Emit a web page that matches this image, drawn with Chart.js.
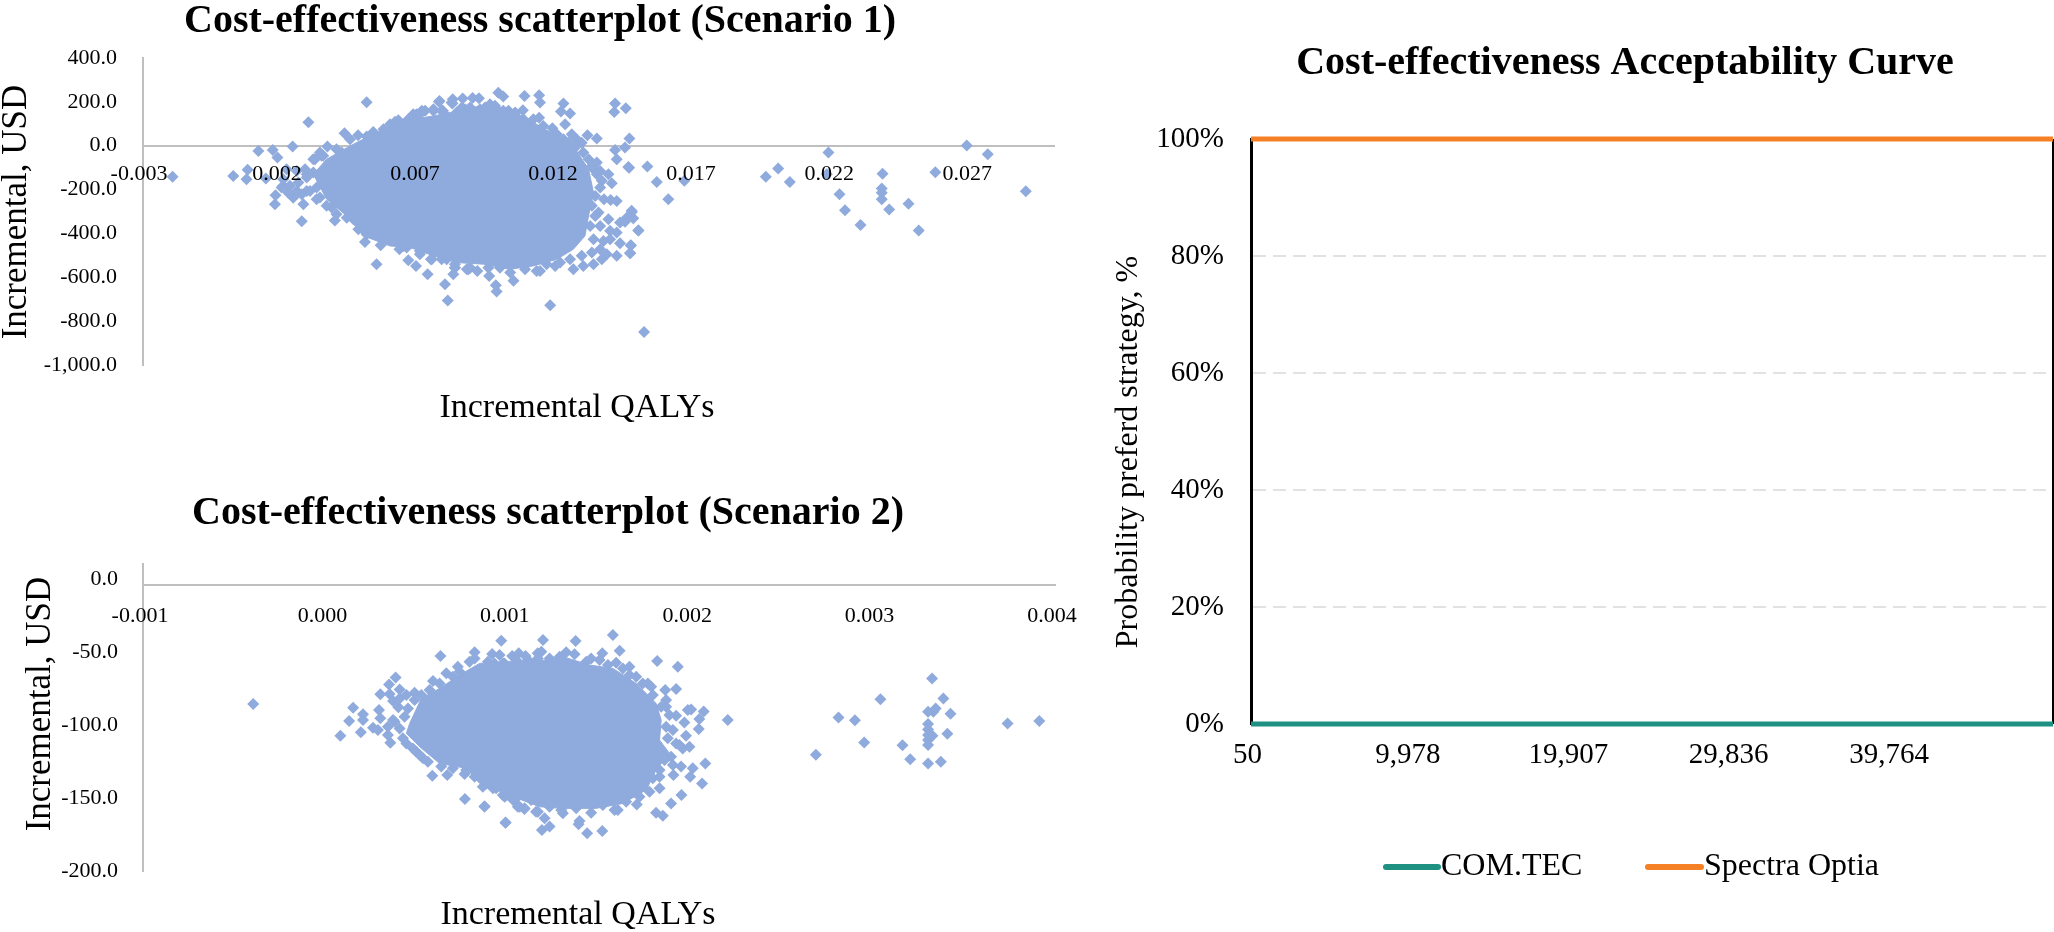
<!DOCTYPE html>
<html>
<head>
<meta charset="utf-8">
<title>Cost-effectiveness</title>
<script src="https://cdn.jsdelivr.net/npm/chart.js@4/dist/chart.umd.js"></script>
<style>
  html, body { margin: 0; padding: 0; background: #fff; overflow: hidden; }
  #page { position: relative; width: 2054px; height: 932px; }
  canvas { position: absolute; display: block; }
  #chart1 { left: 0; top: 0; }
  #chart2 { left: 0; top: 480px; }
  #chart3 { left: 1090px; top: 0; }
</style>
</head>
<body>
<div id="page">
  <canvas id="chart1" width="1080" height="470"></canvas>
  <canvas id="chart2" width="1080" height="452"></canvas>
  <canvas id="chart3" width="964" height="932"></canvas>
</div>
<script>
// Scenario 1: [incremental QALYs, incremental USD]
const s1XTicks = [-0.003, 0.002, 0.007, 0.012, 0.017, 0.022, 0.027];
const s1YTicks = [400, 200, 0, -200, -400, -600, -800, -1000];
// outline of the solid part of the cloud
const s1Core = [
  [0.00317,-130],[0.00365,-62],[0.0045,-1],[0.00546,60],[0.00643,113],[0.00752,136],[0.00848,159],
  [0.00945,189],[0.0103,166],[0.01114,106],[0.01199,45],[0.01271,-24],[0.01314,-107],[0.01332,-214],
  [0.01314,-320],[0.01301,-411],[0.01259,-472],[0.01199,-518],[0.01114,-548],[0.0103,-563],[0.00933,-540],
  [0.00836,-533],[0.00752,-502],[0.00667,-464],[0.00595,-457],[0.00498,-411],[0.00438,-320],[0.00365,-244],
  [0.00317,-130]
];
const s1Points = [
  [-0.00193,-141],[0.00027,-138],[0.00079,-110],[0.00075,-153],[0.00118,-24],[0.0017,-19],[0.00187,-54],
  [0.00242,-4],[0.00299,107],[0.00145,-150],[0.0018,-226],[0.00178,-267],[0.00275,-344],[0.0051,198],
  [0.0043,57],[0.00368,-4],[0.00479,48],[0.00534,63],[0.00613,109],[0.00661,121],[0.00546,-540],
  [0.00804,-706],[0.00794,-632],[0.00731,-586],[0.00689,-548],[0.00661,-522],[0.00743,-518],[0.00561,-454],
  [0.00504,-439],[0.00629,-472],[0.00395,-341],[0.00281,-267],[0.00244,-236],[0.00347,-46],[0.00401,-16],
  [0.00774,204],[0.00822,212],[0.00858,215],[0.00786,159],[0.00722,159],[0.00691,144],[0.00208,-183],
  [0.00257,-206],[0.00293,-206],[0.0022,-107],[0.00293,-130],[0.00341,-236],[0.00317,-62],[0.00383,-282],
  [0.00462,-335],[0.00772,201],[0.00821,192],[0.00894,218],[0.00917,217],[0.00987,242],[0.01005,224],
  [0.01082,227],[0.01135,230],[0.01138,197],[0.01223,192],[0.01214,156],[0.01247,147],[0.01229,98],
  [0.01076,162],[0.01135,128],[0.01183,80],[0.01024,159],[0.00752,159],[0.00784,159],[0.00867,166],
  [0.00921,166],[0.00975,182],[0.01054,128],[0.01102,83],[0.01253,52],[0.01241,14],[0.0131,48],[0.01344,33],
  [0.01289,14],[0.0141,192],[0.01449,171],[0.01407,154],[0.01462,33],[0.01446,-8],[0.0141,-19],[0.01416,-62],
  [0.01458,-97],[0.01527,-95],[0.01561,-165],[0.01603,-244],[0.01661,-160],[0.01344,-77],[0.01332,-107],
  [0.01356,-115],[0.01386,-130],[0.01398,-171],[0.01362,-160],[0.0137,-244],[0.01394,-247],[0.01416,-252],
  [0.0135,-305],[0.01386,-335],[0.01356,-366],[0.01428,-350],[0.01471,-302],[0.01452,-328],[0.01495,-387],
  [0.01416,-396],[0.01392,-426],[0.01428,-445],[0.01467,-454],[0.01465,-490],[0.01416,-502],[0.0138,-495],
  [0.01362,-518],[0.01332,-540],[0.01295,-548],[0.01259,-563],[0.01193,-548],[0.01138,-571],[0.01042,-616],
  [0.00978,-636],[0.00981,-665],[0.00954,-594],[0.00911,-571],[0.00824,-586],[0.0083,-556],[0.00885,-556],
  [0.01175,-727],[0.01515,-849],[0.01461,-100],[0.01956,-142],[0.02001,-104],[0.02043,-165],[0.02183,-31],
  [0.02177,-130],[0.02223,-221],[0.02243,-294],[0.02299,-361],[0.02379,-128],[0.02376,-195],[0.02376,-214],
  [0.02376,-244],[0.02403,-291],[0.02473,-265],[0.0251,-387],[0.0257,-121],[0.02684,1],[0.0276,-39],
  [0.02898,-208],[0.0147,-297],[0.01476,-331],[0.01446,-347],[0.01494,-387],[0.01467,-455],[0.01464,-489]
];
// diamonds that touch the solid part along its edge
const s1Edge = [
  [0.00353,-46],[0.00323,-62],[0.00341,-31],[0.0042,-31],[0.0045,30],[0.0051,42],[0.00571,75],[0.00595,98],
  [0.00625,116],[0.00679,144],[0.0071,159],[0.00752,166],[0.00782,159],[0.00818,197],[0.00855,174],[0.00867,144],
  [0.00329,-244],[0.00365,-274],[0.00401,-312],[0.00438,-328],[0.0048,-381],[0.0051,-404],[0.00546,-404],
  [0.00577,-388],[0.00625,-434],[0.00655,-464],[0.00703,-480],[0.00752,-487],[0.008,-518],[0.0083,-556],
  [0.00873,-563],[0.00202,-191],[0.00232,-183],[0.00263,-168],[0.00293,-145],[0.00317,-122],[0.00335,-130],
  [0.00329,-191],[0.00305,-206],[0.00275,-221],[0.00244,-236],[0.00226,-214],[0.00208,-153],[0.00257,-115],
  [0.00287,-107],[0.00703,144],[0.00788,151],[0.00836,151],[0.00885,174],[0.00939,174],[0.00957,189],
  [0.01005,159],[0.01048,151],[0.01078,121],[0.01114,121],[0.0115,90],[0.01199,52],[0.01223,30],[0.01271,30],
  [0.01265,-8],[0.01295,-31],[0.01314,-62],[0.01326,-92],[0.01344,-130],[0.01356,-191],[0.01338,-229],
  [0.01326,-274],[0.01338,-320],[0.0132,-366],[0.01332,-426],[0.01368,-434],[0.01356,-472],[0.01392,-388],
  [0.01326,-487],[0.01289,-502],[0.01247,-518],[0.01211,-533],[0.01162,-540],[0.01126,-571],[0.01084,-563],
  [0.0103,-578],[0.00993,-556],[0.00951,-556],[0.00879,-563],[0.0083,-540],[0.00782,-518],[0.00746,-518],
  [0.00703,-495],[0.00643,-457]
];

// Scenario 2
const s2XTicks = [-0.001, 0, 0.001, 0.002, 0.003, 0.004];
const s2YTicks = [0, -50, -100, -150, -200];
const s2Core = [
  [0.000462,-98.9],[0.000526,-81.8],[0.000626,-74.9],[0.000736,-65.8],[0.000845,-57.8],[0.000991,-56.6],
  [0.001029,-56.6],[0.001211,-55.5],[0.001302,-53.2],[0.001448,-58.9],[0.001576,-61.2],[0.001704,-71.5],
  [0.001813,-85.2],[0.001841,-96.6],[0.001832,-110.3],[0.001886,-119.4],[0.001813,-130.8],[0.001759,-144.5],
  [0.001631,-153.7],[0.001485,-157.1],[0.001302,-157.1],[0.001175,-156],[0.001029,-149.1],[0.000846,-140],
  [0.000772,-129.7],[0.000626,-126.3],[0.000517,-114.9],[0.000444,-105.7],[0.000462,-98.9]
];
const s2Points = [
  [-0.000396,-85.6],[0.000152,-88.1],[0.000206,-92.7],[0.000206,-96.6],[0.00013,-97.3],[0.000082,-107.3],
  [0.000194,-105],[0.000261,-101.8],[0.000294,-89.7],[0.000301,-95.4],[0.000301,-79],[0.000349,-72.2],
  [0.000385,-67.4],[0.000407,-75.6],[0.000352,-78.8],[0.000371,-83.6],[0.0004,-87.9],[0.00038,-97.7],
  [0.000343,-106.9],[0.000356,-112.1],[0.000425,-109.1],[0.000288,-103.4],[0.000498,-118.3],[0.000535,-122.8],
  [0.000586,-134.7],[0.000668,-134.3],[0.000763,-133.6],[0.000765,-150.7],[0.000872,-155.9],[0.000987,-166.9],
  [0.000863,-142.3],[0.000973,-148],[0.001055,-156],[0.001091,-157.5],[0.000964,-42.3],[0.000631,-52.8],
  [0.000663,-64.6],[0.00059,-69.9],[0.000626,-71.5],[0.000489,-77.9],[0.000726,-60.1],[0.000818,-50.2],
  [0.000914,-51.4],[0.000955,-52.1],[0.001024,-52.8],[0.00106,-50.9],[0.001097,-52.8],[0.001164,-50.9],
  [0.001193,-41.8],[0.001372,-42.5],[0.001576,-38.4],[0.001613,-49.1],[0.001819,-56.2],[0.001932,-60.1],
  [0.001184,-49.8],[0.00132,-50.2],[0.001366,-51.6],[0.001457,-54.4],[0.001518,-50.9],[0.001594,-57.3],
  [0.001667,-60.1],[0.001704,-66.9],[0.001768,-71.5],[0.001786,-73.8],[0.001863,-76],[0.001923,-75.4],
  [0.001868,-82.9],[0.001868,-87.5],[0.001923,-93.6],[0.001987,-89.7],[0.002005,-89.3],[0.002074,-90.7],
  [0.00205,-95.9],[0.001968,-98.2],[0.002047,-102.8],[0.002206,-96.6],[0.001977,-107.3],[0.001996,-114.9],
  [0.001941,-113.7],[0.001905,-127.4],[0.00195,-128.5],[0.001908,-134.3],[0.002014,-129.7],[0.002,-135.4],
  [0.002083,-126.3],[0.002065,-140],[0.001952,-148],[0.001895,-153.7],[0.001813,-160.1],[0.00185,-162.1],
  [0.001707,-154.4],[0.001603,-158.2],[0.001457,-160.1],[0.001393,-165.8],[0.001388,-168],[0.001435,-174.2],
  [0.001518,-172.6],[0.001302,-160.5],[0.001202,-163.9],[0.001229,-169.6],[0.001187,-171.9],[0.001065,-156],
  [0.001092,-157.1],[0.000988,-166.7],[0.000873,-155.9],[0.000983,-149.1],[0.001832,-143.4],[0.001832,-135.4],
  [0.002689,-120.3],[0.002813,-94.8],[0.002903,-96.8],[0.002954,-111.9],[0.003043,-82.4],[0.003164,-113.9],
  [0.003206,-123.5],[0.003304,-126.3],[0.003374,-125.1],[0.003326,-68.1],[0.003388,-81.8],[0.003346,-88.6],
  [0.003333,-90.9],[0.003304,-90.9],[0.003427,-92.3],[0.00341,-106],[0.003304,-99.3],[0.003304,-103],
  [0.003304,-106.9],[0.003328,-107.3],[0.003304,-110.3],[0.003304,-113.7],[0.00374,-98.9],[0.003914,-97.3]
];
const s2Edge = [
  [0.000371,-96.6],[0.000343,-101.2],[0.000407,-102.3],[0.000434,-94.3],[0.000453,-88.6],[0.000407,-81.8],
  [0.000444,-79.5],[0.000489,-82.9],[0.000526,-79.5],[0.000571,-76],[0.000699,-66.9],[0.000736,-63.5],
  [0.00079,-56.6],[0.000818,-54.4],[0.000891,-56.6],[0.000927,-57.8],[0.000982,-57.8],[0.001046,-55.5],
  [0.001101,-56.6],[0.000444,-112.6],[0.00048,-116],[0.000517,-120.6],[0.000562,-125.1],[0.000635,-128.5],
  [0.000699,-129.7],[0.000772,-130.8],[0.000818,-135.4],[0.000882,-140],[0.000936,-143.4],[0.000991,-148],
  [0.001037,-151.4],[0.001128,-151.4],[0.001155,-159.4],[0.000974,-57.8],[0.00112,-56.6],[0.001165,-54.4],
  [0.001229,-54.4],[0.001284,-53.2],[0.00143,-56.6],[0.001503,-55.5],[0.001549,-58.9],[0.001631,-61.2],
  [0.001667,-65.8],[0.00174,-71.5],[0.001795,-79.5],[0.001841,-87.5],[0.001886,-93.2],[0.001868,-101.2],
  [0.001905,-103.4],[0.001877,-109.1],[0.001923,-112.6],[0.001959,-116],[0.001895,-121.7],[0.001859,-124],
  [0.001832,-130.8],[0.001795,-136.5],[0.001777,-145.7],[0.001722,-149.1],[0.001649,-152.5],[0.001585,-158.2],
  [0.001521,-154.8],[0.001375,-157.1],[0.001293,-158.2],[0.001229,-156],[0.001165,-159.4],[0.00112,-149.1],
  [0.001029,-151.4],[0.000983,-148],[0.000919,-143.4]
];

// Acceptability curve
const wtpLabels = ['50', '9,978', '19,907', '29,836', '39,764', ''];
const comTec = [0, 0, 0, 0, 0, 0];
const spectraOptia = [100, 100, 100, 100, 100, 100];

const SERIF = '"Liberation Serif", "Times New Roman", serif';
const DOT = '#8faadc';
const AXIS = '#bfbfbf';
const TEAL = '#1f9182';
const ORANGE = '#f58026';

// titles and axis captions sit at fixed spots, off the centre of the plot area
const captionPlugin = {
  id: 'captions',
  afterDraw(chart, args, opts) {
    const ctx = chart.ctx;
    (opts.items || []).forEach(c => {
      ctx.save();
      ctx.translate(c.x, c.y);
      if (c.vertical) ctx.rotate(-Math.PI / 2);
      ctx.font = (c.bold ? 'bold ' : '') + c.size + 'px ' + SERIF;
      ctx.fillStyle = '#000';
      ctx.textAlign = c.align || 'center';
      ctx.textBaseline = 'middle';
      ctx.fillText(c.text, 0, 0);
      ctx.restore();
    });
    (opts.legend || []).forEach(l => {
      ctx.save();
      ctx.strokeStyle = l.color;
      ctx.lineWidth = 6;
      ctx.lineCap = 'round';
      ctx.beginPath();
      ctx.moveTo(l.x1, l.y);
      ctx.lineTo(l.x2, l.y);
      ctx.stroke();
      ctx.font = '32px ' + SERIF;
      ctx.fillStyle = '#000';
      ctx.textBaseline = 'middle';
      ctx.fillText(l.text, l.x2 + 3, l.y);
      ctx.restore();
    });
  }
};

const toXY = pairs => pairs.map(p => ({ x: p[0], y: p[1] }));
const useTicks = list => scale => { scale.ticks = list.map(v => ({ value: v })); };
// end labels may hang over the plot area, the layout should not shrink for them
const noSidePadding = scale => { scale.paddingLeft = 0; scale.paddingRight = 0; };

function scatterChart(id, opt) {
  return new Chart(document.getElementById(id), {
    type: 'scatter',
    data: {
      datasets: [
        {
          data: toXY(opt.core),
          showLine: true,
          fill: 'shape',
          backgroundColor: DOT,
          borderColor: DOT,
          borderWidth: 1,
          pointRadius: 0,
          tension: 0
        },
        {
          data: toXY(opt.points.concat(opt.edge)),
          pointStyle: 'rectRot',
          pointRadius: 6,
          pointBorderWidth: 0,
          backgroundColor: DOT
        }
      ]
    },
    options: {
      responsive: false,
      animation: false,
      layout: { padding: opt.padding },
      plugins: {
        legend: { display: false },
        tooltip: { enabled: false },
        captions: { items: opt.captions }
      },
      scales: {
        x: {
          type: 'linear',
          position: { y: opt.crossAt },
          min: opt.xMin,
          max: opt.xMax,
          afterBuildTicks: useTicks(opt.xTicks),
          afterFit: noSidePadding,
          grid: { display: false },
          border: { color: AXIS, width: 2 },
          ticks: {
            z: 1,
            autoSkip: false,
            maxRotation: 0,
            color: '#000',
            padding: opt.xPad,
            labelOffset: opt.xLabelShift,
            font: { family: SERIF, size: 22 },
            callback: v => v.toFixed(3)
          }
        },
        y: {
          min: opt.yMin,
          max: opt.yMax,
          afterBuildTicks: useTicks(opt.yTicks),
          afterFit: s => { s.width = 143; },
          grid: { display: false, drawTicks: false },
          border: { color: AXIS, width: 2 },
          ticks: {
            color: '#000',
            padding: opt.yPad,
            font: { family: SERIF, size: 22 },
            callback: v => v.toLocaleString('en-US', { minimumFractionDigits: 1, maximumFractionDigits: 1 })
          }
        }
      }
    },
    plugins: [captionPlugin]
  });
}

scatterChart('chart1', {
  core: s1Core, points: s1Points, edge: s1Edge, xTicks: s1XTicks, yTicks: s1YTicks,
  xMin: -0.003, xMax: 0.03, yMin: -1000, yMax: 400, crossAt: 0,
  padding: { top: 58, right: 26, bottom: 105, left: 0 },
  xPad: 7, xLabelShift: -4, yPad: 26,
  captions: [
    { text: 'Cost-effectiveness scatterplot (Scenario 1)', x: 540, y: 22, size: 40, bold: true },
    { text: 'Incremental QALYs', x: 577, y: 408, size: 34 },
    { text: 'Incremental, USD', x: 17, y: 212, size: 35, vertical: true }
  ]
});

scatterChart('chart2', {
  core: s2Core, points: s2Points, edge: s2Edge, xTicks: s2XTicks, yTicks: s2YTicks,
  xMin: -0.001, xMax: 0.004, yMin: -200, yMax: 10.3, crossAt: -4,
  padding: { top: 84, right: 25, bottom: 61, left: 0 },
  xPad: 10, xLabelShift: -3, yPad: 25,
  captions: [
    { text: 'Cost-effectiveness scatterplot (Scenario 2)', x: 548, y: 34, size: 40, bold: true },
    { text: 'Incremental QALYs', x: 578, y: 435, size: 34 },
    { text: 'Incremental, USD', x: 41, y: 224, size: 35, vertical: true }
  ]
});

new Chart(document.getElementById('chart3'), {
  type: 'line',
  data: {
    labels: wtpLabels,
    datasets: [
      { label: 'COM.TEC', data: comTec, borderColor: TEAL, borderWidth: 5, pointRadius: 0, clip: false },
      { label: 'Spectra Optia', data: spectraOptia, borderColor: ORANGE, borderWidth: 5, pointRadius: 0, clip: false }
    ]
  },
  options: {
    responsive: false,
    animation: false,
    layout: { padding: { top: 139, right: 1, bottom: 148, left: 0 } },
    plugins: {
      legend: { display: false },
      tooltip: { enabled: false },
      captions: {
        items: [
          { text: 'Cost-effectiveness Acceptability Curve', x: 535, y: 64, size: 40, bold: true },
          { text: 'Probability preferd strategy, %', x: 39, y: 452, size: 32, vertical: true }
        ],
        legend: [
          { text: 'COM.TEC', color: TEAL, x1: 296, x2: 348, y: 867 },
          { text: 'Spectra Optia', color: ORANGE, x1: 558, x2: 611, y: 867 }
        ]
      }
    },
    scales: {
      x: {
        afterFit: s => { s.height = 60; noSidePadding(s); },
        grid: {
          drawTicks: false,
          lineWidth: 3,
          color: c => (c.index === 0 || c.index === wtpLabels.length - 1) ? '#000' : 'transparent'
        },
        border: { display: false },
        ticks: {
          autoSkip: false,
          maxRotation: 0,
          color: '#000',
          padding: 14,
          labelOffset: -3.5,
          font: { family: SERIF, size: 29 }
        }
      },
      y: {
        min: 0,
        max: 100,
        afterFit: s => { s.width = 161; },
        grid: {
          drawTicks: false,
          lineWidth: 2,
          color: c => (c.tick.value === 100 ? '#bfbfbf' : '#e2e2e2')
        },
        border: { color: '#000', width: 3, dash: [13, 7] },
        ticks: {
          stepSize: 20,
          color: '#000',
          padding: 27,
          font: { family: SERIF, size: 29 },
          callback: v => v + '%'
        }
      }
    }
  },
  plugins: [captionPlugin]
});
</script>
</body>
</html>
